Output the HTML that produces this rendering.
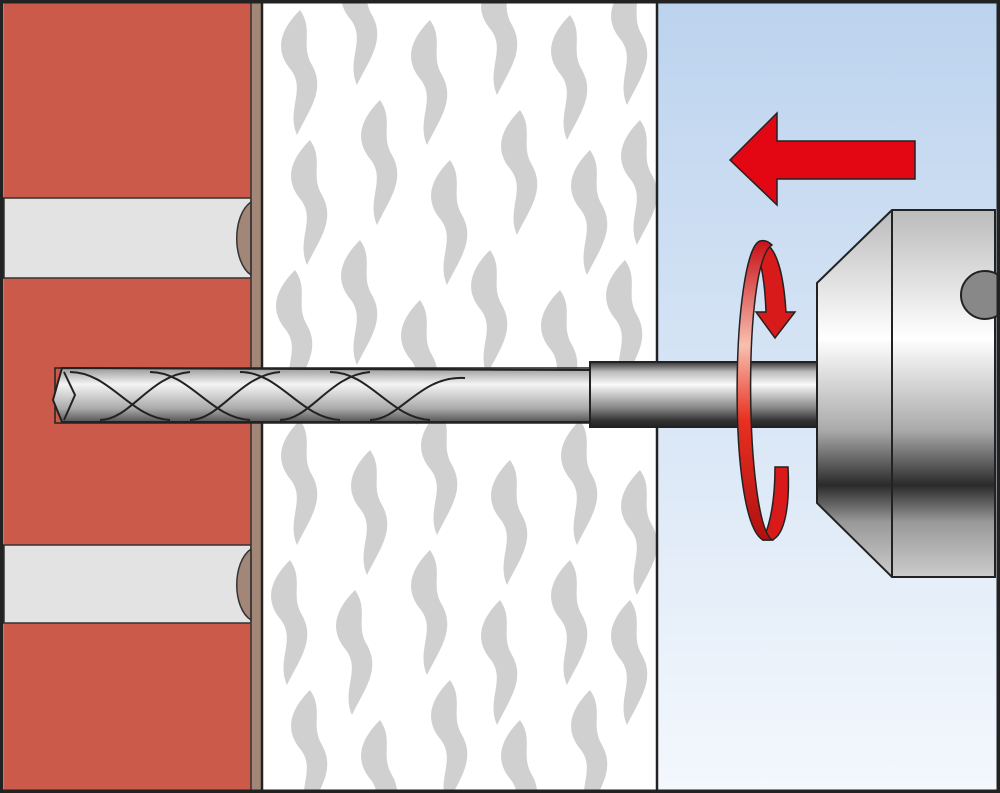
<!DOCTYPE html>
<html><head><style>html,body{margin:0;padding:0;background:#fff;overflow:hidden;width:1000px;height:793px}svg{display:block}</style></head><body>
<svg width="1000" height="793" viewBox="0 0 1000 793" xmlns="http://www.w3.org/2000/svg">
<defs>
<linearGradient id="sky" x1="0" y1="0" x2="0" y2="1"><stop offset="0" stop-color="#bcd3ee"/><stop offset="1" stop-color="#f4f8fd"/></linearGradient>
<linearGradient id="metal" x1="0" y1="0" x2="0" y2="1"><stop offset="0" stop-color="#333"/><stop offset="0.15" stop-color="#bbb"/><stop offset="0.35" stop-color="#fafafa"/><stop offset="0.7" stop-color="#888"/><stop offset="0.9" stop-color="#333"/><stop offset="1" stop-color="#222"/></linearGradient>
<linearGradient id="bit" x1="0" y1="0" x2="0" y2="1"><stop offset="0" stop-color="#999"/><stop offset="0.3" stop-color="#f4f4f4"/><stop offset="0.75" stop-color="#aaa"/><stop offset="1" stop-color="#555"/></linearGradient>
<linearGradient id="chuck" x1="0" y1="0" x2="0" y2="1"><stop offset="0" stop-color="#bbb"/><stop offset="0.35" stop-color="#fff"/><stop offset="0.6" stop-color="#aaa"/><stop offset="0.75" stop-color="#2a2a2a"/><stop offset="0.85" stop-color="#999"/><stop offset="1" stop-color="#ccc"/></linearGradient>
<linearGradient id="ring" x1="0" y1="0" x2="0" y2="1"><stop offset="0" stop-color="#c81018"/><stop offset="0.35" stop-color="#f8c0b0"/><stop offset="0.6" stop-color="#e83020"/><stop offset="1" stop-color="#b01010"/></linearGradient>
<path id="blob" d="M0 0 C-20 20 -26 40 -9 60 C6 80 -14 100 -3 125 C9 100 26 80 12 55 C0 35 14 20 0 0Z" fill="#d0d0d0"/>
</defs>
<rect x="0" y="0" width="1000" height="793" fill="#fff"/>
<rect x="4" y="0" width="247" height="793" fill="#cc5a4a"/>
<rect x="4" y="198" width="247" height="80" fill="#e3e3e3" stroke="#333" stroke-width="1.5"/>
<rect x="4" y="545" width="247" height="78" fill="#e3e3e3" stroke="#333" stroke-width="1.5"/>
<rect x="251" y="0" width="11" height="793" fill="#a28779"/>
<path d="M251 202 C232 215 232 262 251 275Z" fill="#a28779" stroke="#333" stroke-width="1.5"/>
<path d="M251 549 C232 562 232 608 251 620Z" fill="#a28779" stroke="#333" stroke-width="1.5"/>
<line x1="251" y1="0" x2="251" y2="793" stroke="#333" stroke-width="1.5"/>
<line x1="262" y1="0" x2="262" y2="793" stroke="#222" stroke-width="2.5"/>
<g>
<use href="#blob" x="300" y="10"/><use href="#blob" x="360" y="-40"/><use href="#blob" x="430" y="20"/><use href="#blob" x="500" y="-30"/><use href="#blob" x="570" y="15"/><use href="#blob" x="630" y="-20"/>
<use href="#blob" x="310" y="140"/><use href="#blob" x="380" y="100"/><use href="#blob" x="450" y="160"/><use href="#blob" x="520" y="110"/><use href="#blob" x="590" y="150"/><use href="#blob" x="640" y="120"/>
<use href="#blob" x="295" y="270"/><use href="#blob" x="360" y="240"/><use href="#blob" x="420" y="300"/><use href="#blob" x="490" y="250"/><use href="#blob" x="560" y="290"/><use href="#blob" x="625" y="260"/>
<use href="#blob" x="300" y="420"/><use href="#blob" x="370" y="450"/><use href="#blob" x="440" y="410"/><use href="#blob" x="510" y="460"/><use href="#blob" x="580" y="420"/><use href="#blob" x="640" y="470"/>
<use href="#blob" x="290" y="560"/><use href="#blob" x="355" y="590"/><use href="#blob" x="430" y="550"/><use href="#blob" x="500" y="600"/><use href="#blob" x="570" y="560"/><use href="#blob" x="630" y="600"/>
<use href="#blob" x="310" y="690"/><use href="#blob" x="380" y="720"/><use href="#blob" x="450" y="680"/><use href="#blob" x="520" y="720"/><use href="#blob" x="590" y="690"/>
</g>
<rect x="657" y="0" width="340" height="793" fill="url(#sky)"/>
<line x1="657" y1="0" x2="657" y2="793" stroke="#222" stroke-width="2.5"/>
<rect x="55" y="368" width="535" height="55" fill="none" stroke="#222" stroke-width="1.5"/>
<path d="M62 368 L590 370 L590 422 L62 422 L53 400 Z" fill="url(#bit)" stroke="#222" stroke-width="2"/>
<g fill="none" stroke="#222" stroke-width="2">
<path d="M70 372 C110 372 130 418 170 420"/><path d="M150 372 C190 372 210 418 250 420"/><path d="M240 372 C280 372 300 418 340 420"/><path d="M330 372 C370 372 390 418 430 420"/>
<path d="M100 420 C130 420 150 375 190 372"/><path d="M190 420 C220 420 240 375 280 372"/><path d="M280 420 C310 420 330 375 370 372"/><path d="M370 420 C400 420 420 375 465 378"/>
<path d="M64 372 L75 395 L64 420"/>
</g>
<rect x="590" y="362" width="228" height="65" fill="url(#metal)" stroke="#222" stroke-width="2"/>
<path d="M817 283 L892 210 L995 210 L995 577 L892 577 L817 503 Z" fill="url(#chuck)" stroke="#222" stroke-width="2"/>
<line x1="892" y1="210" x2="892" y2="577" stroke="#222" stroke-width="2"/>
<ellipse cx="985" cy="295" rx="24" ry="24" fill="#888" stroke="#222" stroke-width="2"/>
<!-- red arrow -->
<path d="M730 160 L777 113 L777 141 L915 141 L915 179 L777 179 L777 205 Z" fill="#e30613" stroke="#222" stroke-width="1.5"/>
<!-- rotation ring: back (right) segments -->
<path d="M762 242 C778 246 784 280 786 312 L795 312 L775 338 L756 312 L766 312 C765 285 762 262 755 250 Z" fill="#d81a1a" stroke="#222" stroke-width="1.5"/>
<path d="M775 467 L788 467 C790 505 785 535 772 540 L763 540 C772 520 775 495 775 467 Z" fill="#d81a1a" stroke="#222" stroke-width="1.5"/>
<!-- front band -->
<path d="M760 241 C732 250 726 520 763 540 L772 540 C745 520 742 262 772 245 C768 241 764 240 760 241 Z" fill="url(#ring)" stroke="#222" stroke-width="1.5"/>
<!-- frame -->
<rect x="1.5" y="1.5" width="997" height="790" fill="none" stroke="#222" stroke-width="4"/>
</svg>
</body></html>
